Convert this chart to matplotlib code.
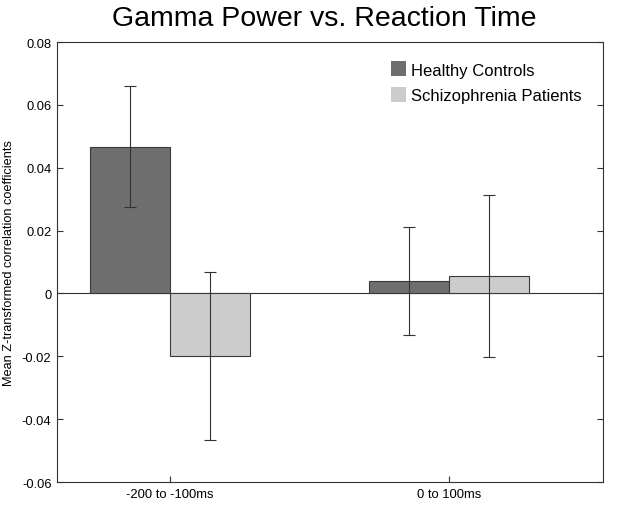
import numpy as np
import matplotlib
matplotlib.use("Agg")
import matplotlib.pyplot as plt

plt.rcParams["font.family"] = ["Liberation Sans", "DejaVu Sans"]

categories = ["-200 to -100ms", "0 to 100ms"]
series_names = ["Healthy Controls", "Schizophrenia Patients"]
controls_mean = [0.0467, 0.0039]
controls_err = [0.0193, 0.0172]
patients_mean = [-0.0200, 0.0056]
patients_err = [0.0267, 0.0258]
y_ticks = [-0.06, -0.04, -0.02, 0, 0.02, 0.04, 0.06, 0.08]
y_tick_labels = ["-0.06", "-0.04", "-0.02", "0", "0.02", "0.04", "0.06", "0.08"]

fig = plt.figure(figsize=(6.24, 5.06), dpi=100)
ax = fig.add_axes([57 / 624, 1 - 483 / 506, 546 / 624, 440 / 506])

x = np.arange(1, len(categories) + 1)
width = 0.286
ax.bar(x - width / 2, controls_mean, width, color="#6e6e6e", edgecolor="#3a3a3a",
       linewidth=0.8, label=series_names[0], zorder=2)
ax.bar(x + width / 2, patients_mean, width, color="#cccccc", edgecolor="#3a3a3a",
       linewidth=0.8, label=series_names[1], zorder=2)
ax.errorbar(x - width / 2, controls_mean, yerr=controls_err, fmt="none",
            ecolor="#333333", elinewidth=0.8, capsize=4, capthick=0.8, zorder=3)
ax.errorbar(x + width / 2, patients_mean, yerr=patients_err, fmt="none",
            ecolor="#333333", elinewidth=0.8, capsize=4, capthick=0.8, zorder=3)
ax.axhline(0, color="#333333", linewidth=0.8, zorder=1)

ax.set_xlim(0.597, 2.55)
ax.set_ylim(-0.06, 0.08)
ax.set_xticks(x)
ax.set_xticklabels(categories, fontsize=9.4)
ax.set_yticks(y_ticks)
ax.set_yticklabels(y_tick_labels, fontsize=9.3)
ax.tick_params(direction="in", length=4, width=0.8, color="#333333", pad=4,
               top=False, right=True)
for spine in ax.spines.values():
    spine.set_color("#333333")
    spine.set_linewidth(0.8)

ax.set_ylabel("Mean Z-transformed correlation coefficients", fontsize=9.2, labelpad=5)
ax.set_title("Gamma Power vs. Reaction Time", fontsize=20.5, pad=12, x=0.49)

handles, labels = ax.get_legend_handles_labels()
leg = ax.legend(handles, labels, loc="upper left", bbox_to_anchor=(0.585, 0.99),
                frameon=False, fontsize=12, handlelength=0.9, handleheight=1.0,
                handletextpad=0.3, labelspacing=0.55)
for patch in leg.get_patches():
    patch.set_edgecolor("none")

fig.savefig("out.png", dpi=100)
